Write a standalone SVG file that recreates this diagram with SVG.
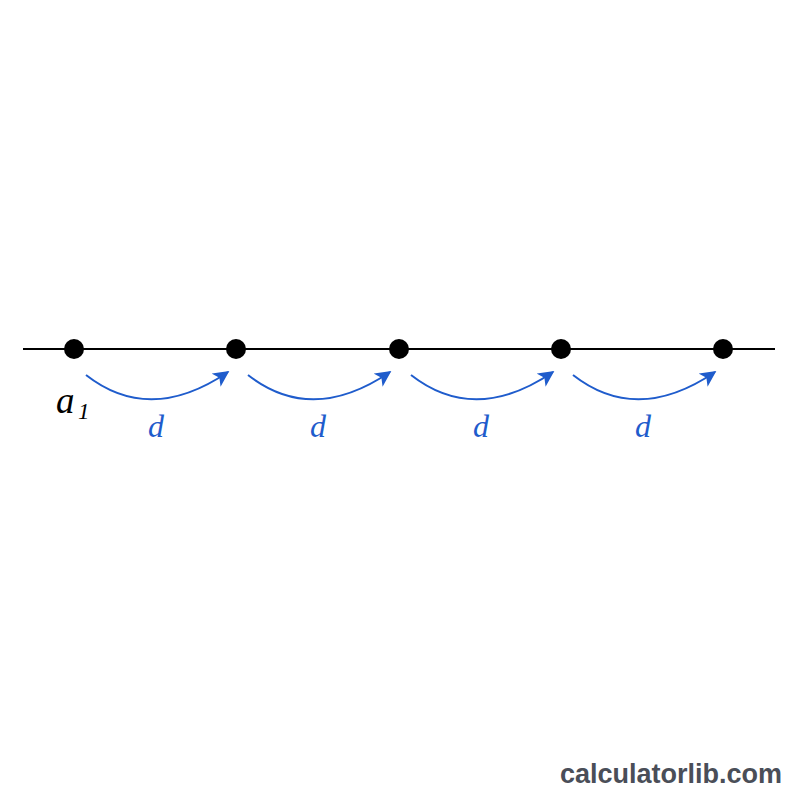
<svg xmlns="http://www.w3.org/2000/svg" width="800" height="800" viewBox="0 0 800 800">
<style>
.dot{fill:#000}
.arc{fill:none;stroke:#1f5ccc;stroke-width:2;marker-end:url(#ah)}
.lbl{font-family:"Liberation Serif",serif;font-style:italic;font-size:32px;fill:#1f5ccc;text-anchor:middle}
.a{font-family:"Liberation Serif",serif;font-style:italic;fill:#000}
</style>
<defs>
<marker id="ah" viewBox="0 0 10 10" refX="9" refY="5" markerWidth="16" markerHeight="16" markerUnits="userSpaceOnUse" orient="auto">
<path d="M0,0 L10,5 L0,10 L2.5,5 Z" fill="#1f5ccc"/>
</marker>
</defs>
<rect width="800" height="800" fill="#fff"/>
<g id="connectors">
<line x1="23" y1="349" x2="775" y2="349" stroke="#000" stroke-width="2"/>
<path class="arc" d="M86,375 Q150,425 228,372"/>
<path class="arc" d="M248,375 Q312,425 390,372"/>
<path class="arc" d="M411,375 Q475,425 553,372"/>
<path class="arc" d="M573,375 Q637,425 715,372"/>
</g>
<g id="n1"><circle class="dot" cx="74" cy="349" r="10"/></g>
<g id="n2"><circle class="dot" cx="236" cy="349" r="10"/></g>
<g id="n3"><circle class="dot" cx="399" cy="349" r="10"/></g>
<g id="n4"><circle class="dot" cx="561" cy="349" r="10"/></g>
<g id="n5"><circle class="dot" cx="723" cy="349" r="10"/></g>
<g id="labels">
<text class="a" x="56" y="413" font-size="37">a</text>
<text class="a" x="78" y="419" font-size="23">1</text>
<text class="lbl" x="156" y="437">d</text>
<text class="lbl" x="318" y="437">d</text>
<text class="lbl" x="481" y="437">d</text>
<text class="lbl" x="643" y="437">d</text>
</g>
<text x="782" y="783" text-anchor="end" font-family="Liberation Sans,Arial,sans-serif" font-weight="bold" font-size="27" fill="#4a4e58">calculatorlib.com</text>
</svg>
